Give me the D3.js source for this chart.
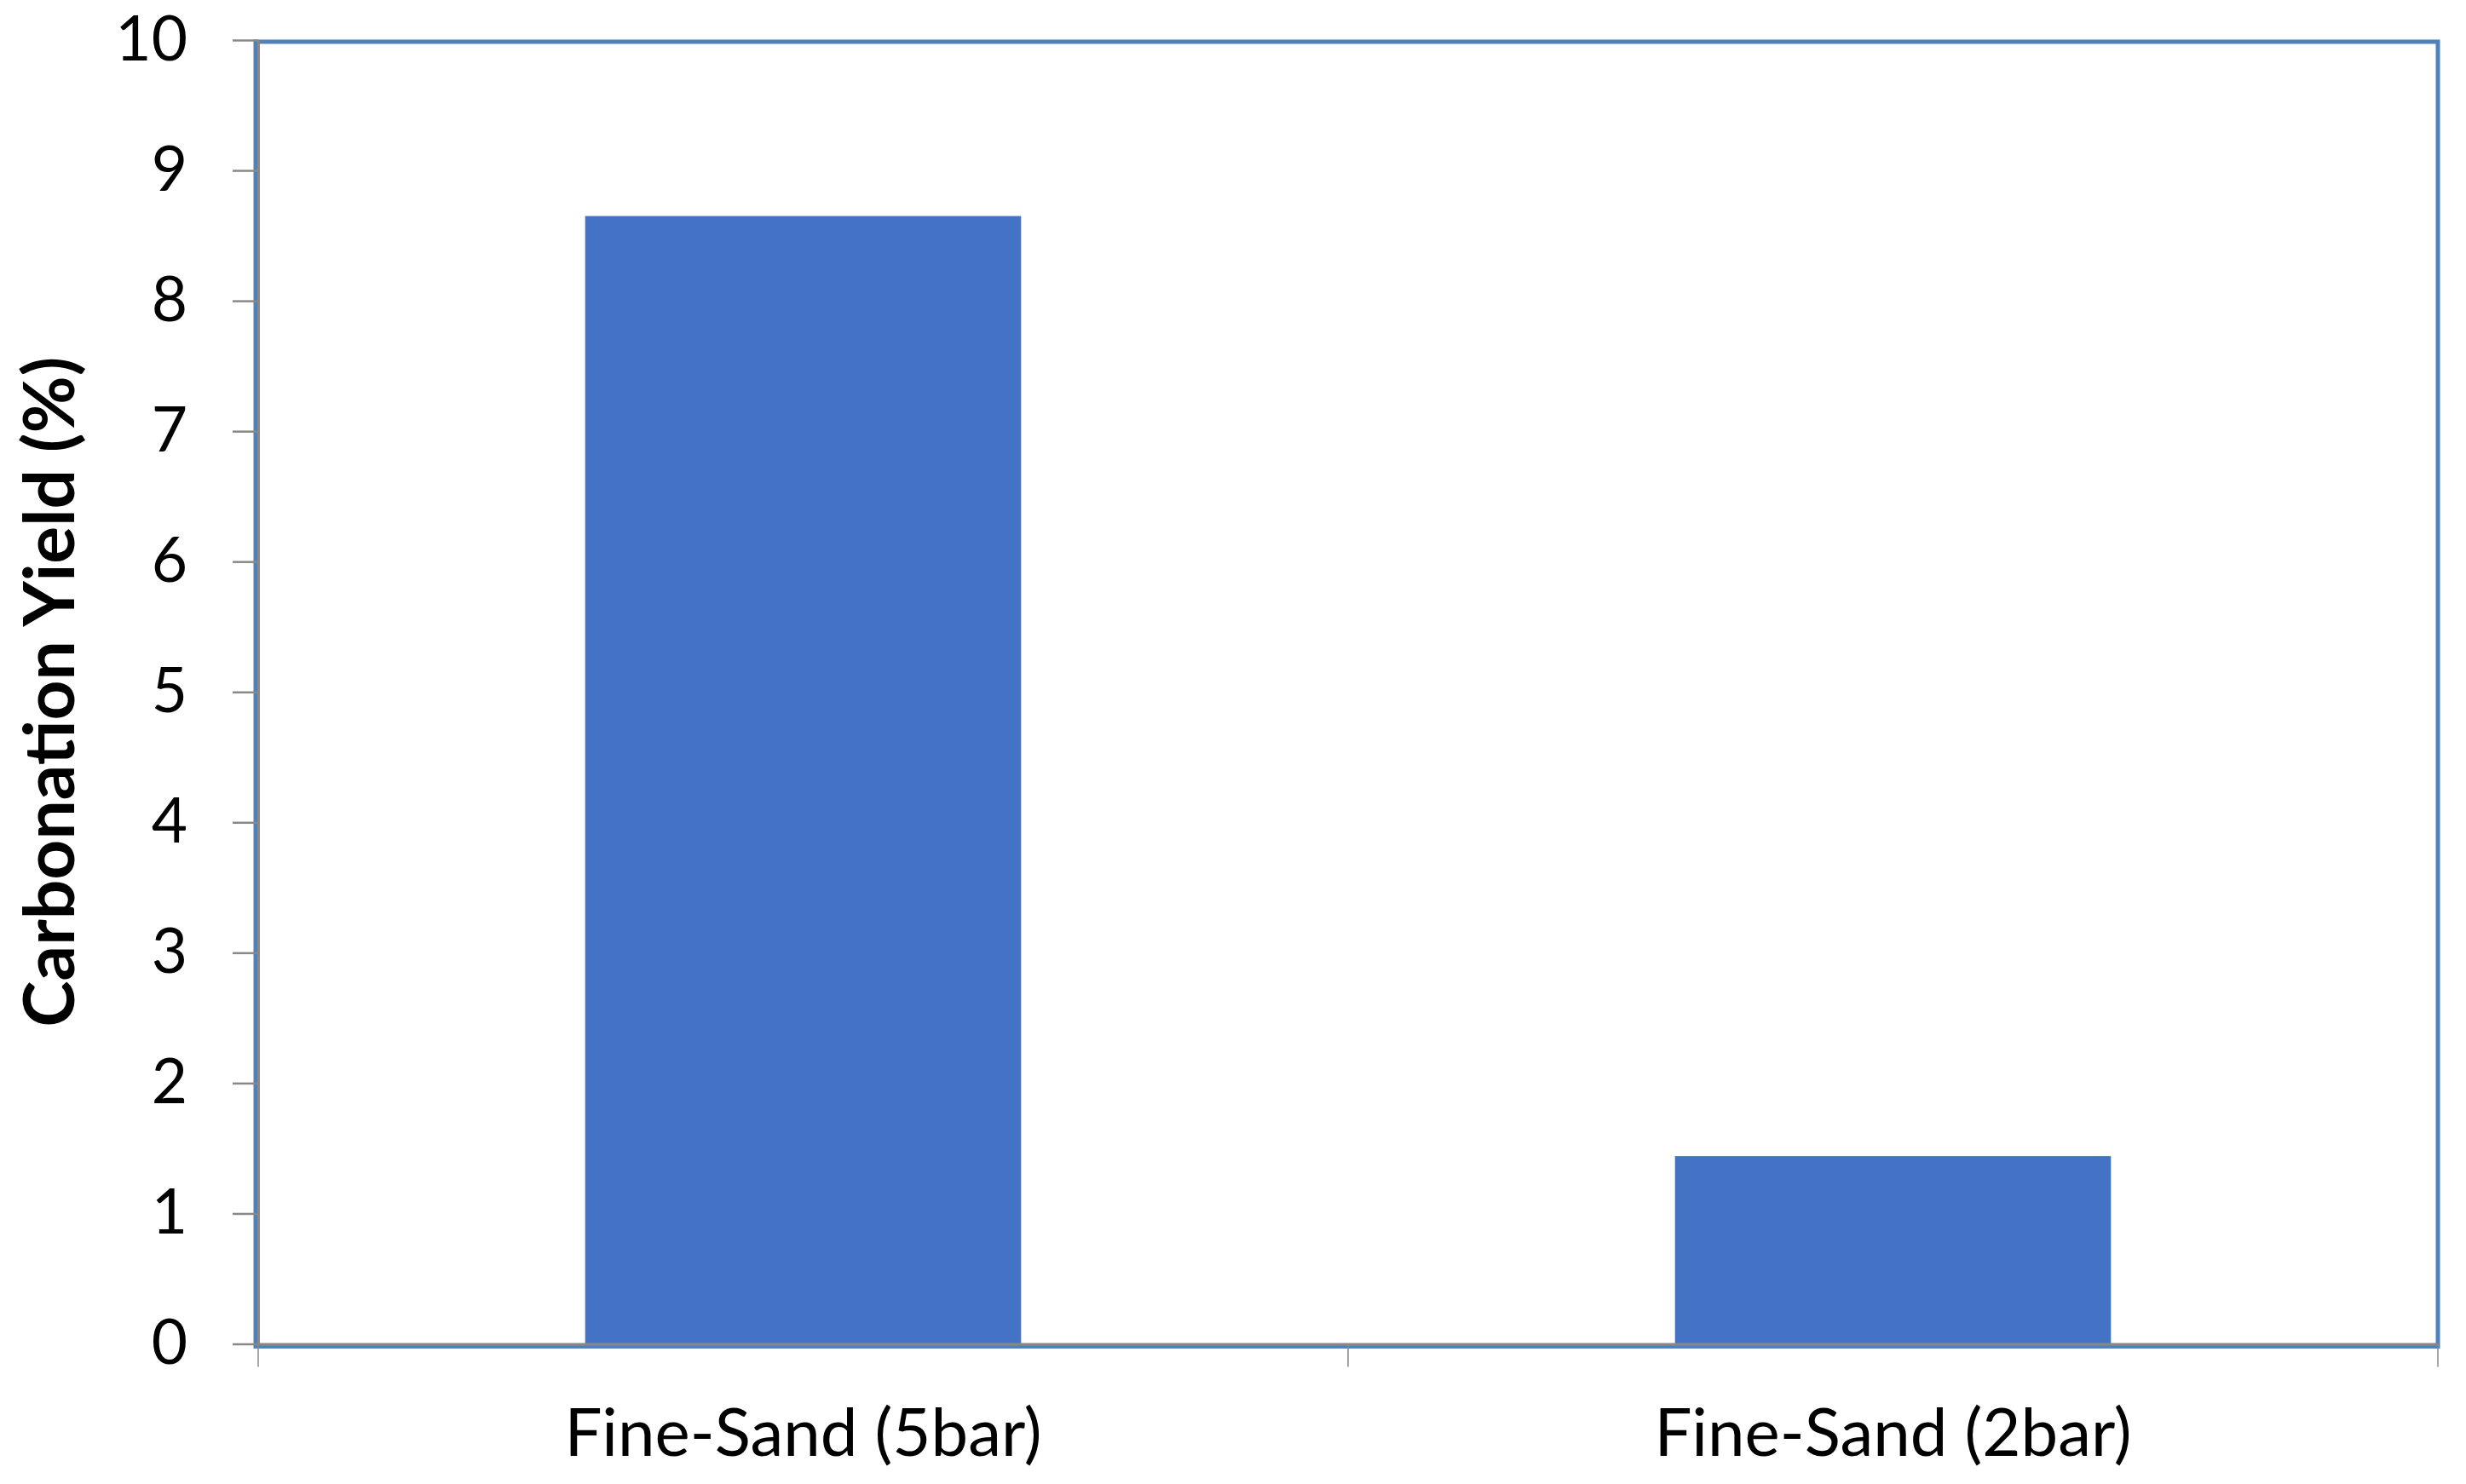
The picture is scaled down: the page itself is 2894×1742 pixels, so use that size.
<!DOCTYPE html>
<html>
<head>
<meta charset="utf-8">
<script src="https://cdn.jsdelivr.net/npm/d3@7"></script>
<style>
  body { margin: 0; background: #fff; }
  svg { display: block; }
</style>
</head>
<body>
<div id="chart"></div>
<script>
// data
var categories = ["Fine-Sand (5bar)", "Fine-Sand (2bar)"];
var yieldValues = [8.65, 1.44];
var yTicks = [0, 1, 2, 3, 4, 5, 6, 7, 8, 9, 10];

var W = 2894, H = 1742;
var margin = {top: 47, right: 33, bottom: 164.5, left: 303};
var width = W - margin.left - margin.right,
    height = H - margin.top - margin.bottom;
var font = "Lato, Liberation Sans, Arial, sans-serif";

var svg = d3.select("#chart")
  .append("svg")
  .attr("width", W)
  .attr("height", H)
  .style("background", "#fff");

var g = svg.append("g")
  .attr("transform", "translate(" + margin.left + "," + margin.top + ")");

// category slots span the whole plot, bars take 40% of each slot
var xCat = d3.scaleBand()
  .domain(categories)
  .range([0, width])
  .padding(0);

var y = d3.scaleLinear()
  .domain([0, 10])
  .range([height, 0]);

// blue plot area border
g.append("rect")
  .attr("x", -3)
  .attr("y", 2)
  .attr("width", width + 3)
  .attr("height", height + 1)
  .attr("fill", "none")
  .attr("stroke", "#4F81BD")
  .attr("stroke-width", 5);

// bars
var barW = xCat.bandwidth() * 0.4;
g.selectAll(".bar")
  .data(categories)
  .enter()
  .append("rect")
  .attr("class", "bar")
  .attr("x", function(d) { return xCat(d) + (xCat.bandwidth() - barW) / 2; })
  .attr("y", function(d, i) { return y(yieldValues[i]); })
  .attr("width", barW)
  .attr("height", function(d, i) { return y(0) - y(yieldValues[i]); })
  .attr("fill", "#4472C4");

// y axis
var yAxis = g.append("g")
  .call(d3.axisLeft(y).tickValues(yTicks).tickSize(30).tickPadding(53).tickSizeOuter(0));
yAxis.select(".domain").attr("stroke", "#888").attr("stroke-width", 3);
yAxis.selectAll(".tick line").attr("stroke", "#888").attr("stroke-width", 2.5);
yAxis.selectAll(".tick text")
  .attr("font-family", font)
  .attr("font-size", 73)
  .attr("fill", "#000");

// x axis
var xAxis = g.append("g")
  .attr("transform", "translate(0," + height + ")")
  .call(d3.axisBottom(xCat).tickSize(0).tickPadding(76).tickSizeOuter(0));
xAxis.select(".domain").attr("stroke", "#888").attr("stroke-width", 3);
xAxis.selectAll(".tick text")
  .attr("font-family", font)
  .attr("font-size", 78)
  .attr("fill", "#000");

// boundary ticks between the category slots
var bounds = categories.map(function(c) { return xCat(c); }).concat([width]);
xAxis.selectAll(".bound")
  .data(bounds)
  .enter()
  .append("line")
  .attr("class", "bound")
  .attr("x1", function(d) { return d; })
  .attr("x2", function(d) { return d; })
  .attr("y1", 0)
  .attr("y2", 27)
  .attr("stroke", "#888")
  .attr("stroke-width", 1.5);

// y axis title
svg.append("text")
  .attr("transform", "translate(" + 87 + "," + (margin.top + height / 2) + ") rotate(-90)")
  .style("text-anchor", "middle")
  .attr("font-family", font)
  .attr("font-weight", "bold")
  .attr("font-size", 82)
  .attr("fill", "#000")
  .text("Carbonation Yield (%)");
</script>
</body>
</html>
